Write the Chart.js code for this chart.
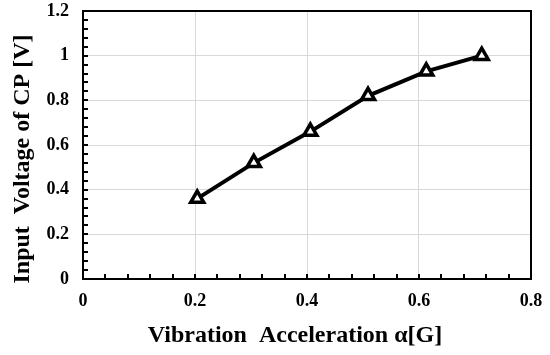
<!DOCTYPE html>
<html>
<head>
<meta charset="utf-8">
<script src="https://cdn.jsdelivr.net/npm/chart.js@4.4.0/dist/chart.umd.min.js"></script>
<style>
  html, body { margin: 0; padding: 0; background: #ffffff; }
  #wrap { width: 550px; height: 355px; }
</style>
</head>
<body>
<div id="wrap"><canvas id="voltageChart" width="550" height="355"></canvas></div>
<script>
const accelG = [0.204, 0.305, 0.406, 0.509, 0.613, 0.712];
const inputVoltage = [0.36, 0.52, 0.66, 0.82, 0.93, 1.0];
const xTicks = [0, 0.2, 0.4, 0.6, 0.8];
const yTicks = [0, 0.2, 0.4, 0.6, 0.8, 1, 1.2];
const xMinorStep = 0.04;
const yMinorStep = 0.04;
const xTitle = "Vibration  Acceleration \u03b1[G]";
const yTitle = "Input  Voltage of CP [V]";

const serif = "'Liberation Serif', 'Times New Roman', serif";

// frame around the plot plus the small inward ticks
const frameAndTicksPlugin = {
  id: "frameAndTicks",
  beforeDatasetsDraw: (chart) => {
    const { ctx, chartArea: a, scales } = chart;
    ctx.save();
    ctx.strokeStyle = "#000000";
    ctx.lineWidth = 2;
    ctx.beginPath();
    const nx = Math.round((scales.x.max - scales.x.min) / xMinorStep);
    for (let i = 1; i < nx; i++) {
      const px = Math.round(scales.x.getPixelForValue(scales.x.min + i * xMinorStep));
      ctx.moveTo(px, a.bottom);
      ctx.lineTo(px, a.bottom - 5);
    }
    const ny = Math.round((scales.y.max - scales.y.min) / yMinorStep);
    for (let i = 1; i < ny; i++) {
      const py = Math.round(scales.y.getPixelForValue(scales.y.min + i * yMinorStep));
      ctx.moveTo(a.left, py);
      ctx.lineTo(a.left + 5, py);
    }
    ctx.stroke();
    ctx.strokeRect(a.left, a.top, a.right - a.left, a.bottom - a.top);
    ctx.restore();
  },
};

// axis titles, sitting a little off-centre like the original
const axisTitlesPlugin = {
  id: "axisTitles",
  afterDraw: (chart) => {
    const { ctx, chartArea: a } = chart;
    ctx.save();
    ctx.fillStyle = "#000000";
    ctx.font = `bold 24px ${serif}`;
    ctx.textAlign = "center";
    ctx.textBaseline = "middle";
    ctx.fillText(xTitle, (a.left + a.right) / 2 - 12, a.bottom + 57);
    ctx.translate(23, (a.top + a.bottom) / 2 + 14);
    ctx.rotate(-Math.PI / 2);
    ctx.fillText(yTitle, 0, 0);
    ctx.restore();
  },
};

function createVoltageChart(ctx) {
  return new Chart(ctx, {
    type: "line",
    data: {
      datasets: [
        {
          data: accelG.map((x, i) => ({ x, y: inputVoltage[i] })),
          borderColor: "#000000",
          borderWidth: 4,
          tension: 0,
          fill: false,
          pointStyle: "triangle",
          pointRadius: 7.5,
          pointHoverRadius: 7.5,
          pointBorderWidth: 3.5,
          pointBorderColor: "#000000",
          pointBackgroundColor: "#ffffff",
        },
      ],
    },
    options: {
      responsive: false,
      animation: false,
      layout: {
        padding: { top: 10, right: 19, bottom: 0, left: 0 },
      },
      scales: {
        x: {
          type: "linear",
          min: 0,
          max: 0.8,
          afterBuildTicks: (scale) => {
            scale.ticks = xTicks.map((value) => ({ value }));
          },
          afterFit: (scale) => {
            scale.height = 76;
            scale.paddingLeft = 0;
            scale.paddingRight = 0;
          },
          grid: { color: "#d9d9d9", lineWidth: 1, drawTicks: false },
          border: { display: false },
          ticks: {
            padding: 12,
            color: "#000000",
            maxRotation: 0,
            callback: (v) => String(v),
            font: { family: serif, size: 18, weight: "bold" },
          },
        },
        y: {
          min: 0,
          max: 1.2,
          afterBuildTicks: (scale) => {
            scale.ticks = yTicks.map((value) => ({ value }));
          },
          afterFit: (scale) => {
            scale.width = 83;
            scale.paddingTop = 0;
            scale.paddingBottom = 0;
          },
          grid: { color: "#d9d9d9", lineWidth: 1, drawTicks: false },
          border: { display: false },
          ticks: {
            padding: 14,
            color: "#000000",
            callback: (v) => String(v),
            font: { family: serif, size: 18, weight: "bold" },
          },
        },
      },
      plugins: {
        legend: { display: false },
        tooltip: { enabled: false },
        title: { display: false },
      },
    },
    plugins: [frameAndTicksPlugin, axisTitlesPlugin],
  });
}

document.addEventListener("DOMContentLoaded", () => {
  const ctx = document.getElementById("voltageChart").getContext("2d");
  createVoltageChart(ctx);
});
</script>
</body>
</html>
